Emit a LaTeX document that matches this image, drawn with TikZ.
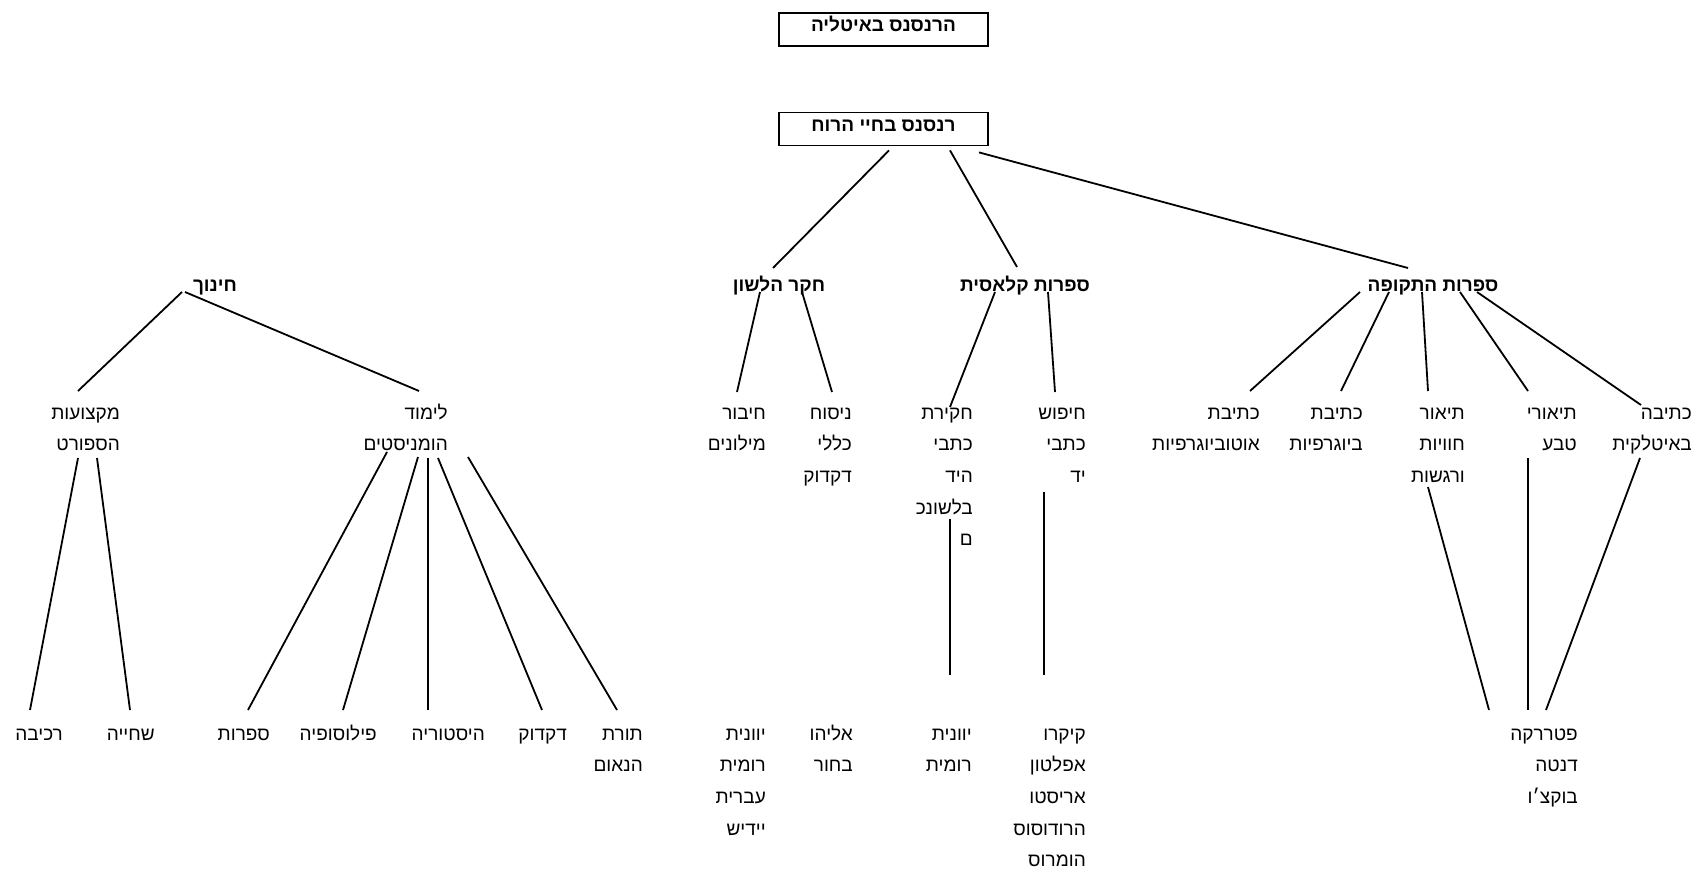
\documentclass[tikz,border=0pt]{standalone}
\usepackage{fontspec}
\setmainfont{Liberation Sans}
\newfontfamily\heb[Script=Hebrew]{Liberation Sans}
\TeXXeTstate=1
\usetikzlibrary{calc}
\newcommand{\hb}[1]{\beginR #1\endR}
\newcommand{\stk}[1]{\begin{tabular}[t]{@{}r@{}}#1\end{tabular}}
\tikzset{
  boxn/.style={draw, line width=1.8pt, minimum width=209pt, inner sep=0pt, text height=19pt, text depth=14pt, font=\heb\fontsize{19}{22}\selectfont\bfseries},
  ttl/.style={anchor=base, inner sep=0pt, font=\heb\fontsize{19}{22}\selectfont\bfseries},
  lbl/.style={anchor=base east, inner sep=0pt, font=\heb\fontsize{19}{31.7}\selectfont},
  conn/.style={line width=1.8pt}
}
\begin{document}
\begin{tikzpicture}[x=1pt,y=-1pt]
\useasboundingbox (0,0) rectangle (1695,872);
% boxes
\node[boxn] (b1) at (883.5,29.5) {\hb{הרנסנס באיטליה}};
\node[boxn] (b2) at (883.5,129) {\hb{רנסנס בחיי הרוח}};
% level 2
\node[ttl] (edu) at (215,291) {\hb{חינוך}};
\node[ttl] (ling) at (779,291) {\hb{חקר הלשון}};
\node[ttl] (class) at (1025,291) {\hb{ספרות קלאסית}};
\node[ttl] (period) at (1433,291) {\hb{ספרות התקופה}};
% level 3
\node[lbl] (sport) at (120,419) {\stk{\hb{מקצועות}\\\hb{הספורט}}};
\node[lbl] (human) at (448,419) {\stk{\hb{לימוד}\\\hb{הומניסטים}}};
\node[lbl] (dict) at (766,419) {\stk{\hb{חיבור}\\\hb{מילונים}}};
\node[lbl] (gram) at (852,419) {\stk{\hb{ניסוח}\\\hb{כללי}\\\hb{דקדוק}}};
\node[lbl] (mss) at (973,419) {\stk{\hb{חקירת}\\\hb{כתבי}\\\hb{היד}\\\hb{בלשונכ}\\\hb{ם}}};
\node[lbl] (search) at (1086,419) {\stk{\hb{חיפוש}\\\hb{כתבי}\\\hb{יד}}};
\node[lbl] (auto) at (1260,419) {\stk{\hb{כתיבת}\\\hb{אוטוביוגרפיות}}};
\node[lbl] (bio) at (1363,419) {\stk{\hb{כתיבת}\\\hb{ביוגרפיות}}};
\node[lbl] (feel) at (1465,419) {\stk{\hb{תיאור}\\\hb{חוויות}\\\hb{ורגשות}}};
\node[lbl] (nature) at (1577,419) {\stk{\hb{תיאורי}\\\hb{טבע}}};
\node[lbl] (ital) at (1692,419) {\stk{\hb{כתיבה}\\\hb{באיטלקית}}};
% bottom row
\node[lbl] (ride) at (63,740) {\stk{\hb{רכיבה}}};
\node[lbl] (swim) at (155,740) {\stk{\hb{שחייה}}};
\node[lbl] (lit) at (270,740) {\stk{\hb{ספרות}}};
\node[lbl] (phil) at (377,740) {\stk{\hb{פילוסופיה}}};
\node[lbl] (hist) at (485,740) {\stk{\hb{היסטוריה}}};
\node[lbl] (gr2) at (567,740) {\stk{\hb{דקדוק}}};
\node[lbl] (rhet) at (643,740) {\stk{\hb{תורת}\\\hb{הנאום}}};
\node[lbl] (langs) at (766,740) {\stk{\hb{יוונית}\\\hb{רומית}\\\hb{עברית}\\\hb{יידיש}}};
\node[lbl] (elia) at (853,740) {\stk{\hb{אליהו}\\\hb{בחור}}};
\node[lbl] (grrom) at (972,740) {\stk{\hb{יוונית}\\\hb{רומית}}};
\node[lbl] (authors) at (1086,740) {\stk{\hb{קיקרו}\\\hb{אפלטון}\\\hb{אריסטו}\\\hb{הרודוסוס}\\\hb{הומרוס}}};
\node[lbl] (itauth) at (1578,740) {\stk{\hb{פטררקה}\\\hb{דנטה}\\\hb{בוקצ׳ו}}};
% connectors box -> level 2
\draw[conn] ($(b2.south)+(5.5,4)$) -- ($(ling.base)+(-6,-23)$);
\draw[conn] ($(b2.south)+(66.5,4)$) -- ($(class.base)+(-8,-24)$);
\draw[conn] ($(b2.south)+(95.5,6)$) -- ($(period.base)+(-25,-23)$);
% level 2 -> level 3
\draw[conn] ($(edu.base)+(-33,1)$) -- ($(sport.base east)+(-42,-28)$);
\draw[conn] ($(edu.base)+(-30,1)$) -- ($(human.base east)+(-29,-28)$);
\draw[conn] ($(ling.base)+(-19,1)$) -- ($(dict.base east)+(-29,-27)$);
\draw[conn] ($(ling.base)+(23,1)$) -- ($(gram.base east)+(-20,-27)$);
\draw[conn] ($(class.base)+(-30,1)$) -- ($(mss.base east)+(-23,-12)$);
\draw[conn] ($(class.base)+(23,1)$) -- ($(search.base east)+(-31,-27)$);
\draw[conn] ($(period.base)+(-73,1)$) -- ($(auto.base east)+(-10,-28)$);
\draw[conn] ($(period.base)+(-44,1)$) -- ($(bio.base east)+(-22,-28)$);
\draw[conn] ($(period.base)+(-11,1)$) -- ($(feel.base east)+(-37,-28)$);
\draw[conn] ($(period.base)+(27,1)$) -- ($(nature.base east)+(-49,-28)$);
\draw[conn] ($(period.base)+(44,1)$) -- ($(ital.base east)+(-51,-14)$);
% level 3 -> bottom
\draw[conn] ($(sport.base east)+(-42,39)$) -- ($(ride.base east)+(-33,-30)$);
\draw[conn] ($(sport.base east)+(-23,39)$) -- ($(swim.base east)+(-25,-30)$);
\draw[conn] ($(human.base east)+(-61,33)$) -- ($(lit.base east)+(-22,-30)$);
\draw[conn] ($(human.base east)+(-30,38)$) -- ($(phil.base east)+(-34,-30)$);
\draw[conn] ($(human.base east)+(-20,39)$) -- ($(hist.base east)+(-57,-30)$);
\draw[conn] ($(human.base east)+(-10,39)$) -- ($(gr2.base east)+(-25,-30)$);
\draw[conn] ($(human.base east)+(20,38)$) -- ($(rhet.base east)+(-26,-30)$);
\draw[conn] ($(mss.base east)+(-23,100)$) -- ($(grrom.base east)+(-22,-65)$);
\draw[conn] ($(search.base east)+(-42,73)$) -- ($(authors.base east)+(-42,-65)$);
\draw[conn] ($(feel.base east)+(-37,68)$) -- ($(itauth.base east)+(-89,-30)$);
\draw[conn] ($(nature.base east)+(-49,39)$) -- ($(itauth.base east)+(-50,-30)$);
\draw[conn] ($(ital.base east)+(-52,39)$) -- ($(itauth.base east)+(-32,-30)$);
\end{tikzpicture}
\end{document}
